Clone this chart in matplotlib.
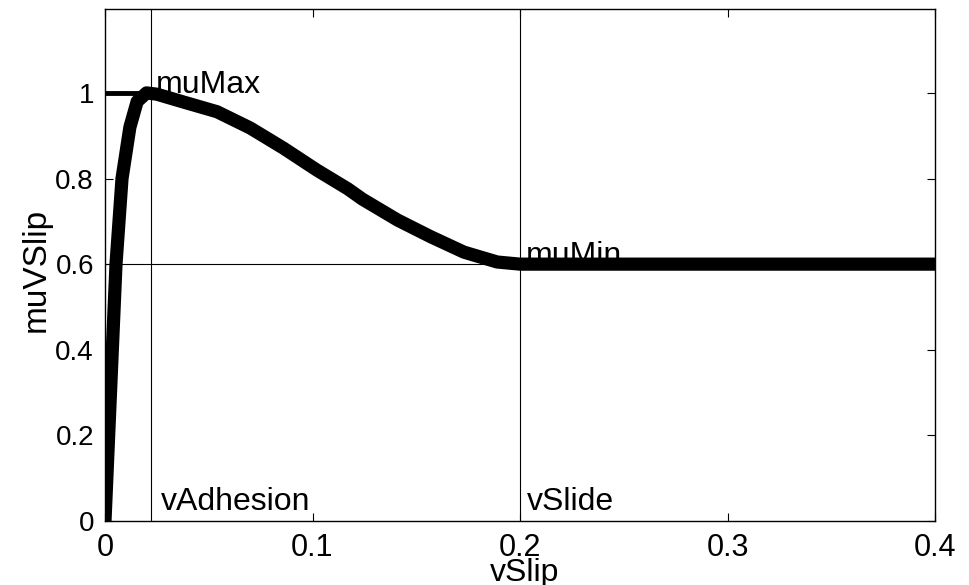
import matplotlib
matplotlib.use("Agg")
import matplotlib.pyplot as plt

plt.rcParams["font.family"] = ["Liberation Sans", "DejaVu Sans"]

# friction curve
v_slip = [0.0, 0.0053, 0.0082, 0.012, 0.0155, 0.020, 0.025, 0.0376, 0.054,
          0.070, 0.086, 0.102, 0.117, 0.124, 0.141, 0.157, 0.173, 0.189,
          0.200, 0.400]
mu_v_slip = [0.0, 0.60, 0.80, 0.92, 0.98, 1.00, 0.997, 0.979, 0.956,
             0.918, 0.871, 0.820, 0.776, 0.752, 0.703, 0.664, 0.628, 0.605,
             0.600, 0.600]

mu_max = 1.0
mu_min = 0.6
v_adhesion = 0.022
v_slide = 0.2

x_ticks = [0, 0.1, 0.2, 0.3, 0.4]
x_tick_labels = ["0", "0.1", "0.2", "0.3", "0.4"]
y_ticks = [0, 0.2, 0.4, 0.6, 0.8, 1.0]
y_tick_labels = ["0", "0.2", "0.4", "0.6", "0.8", "1"]

fig = plt.figure(figsize=(9.69, 5.85), dpi=100, facecolor="white")
ax = fig.add_axes([105 / 969, 1 - 521 / 585, 830 / 969, 512 / 585])

# reference lines
ax.axvline(v_adhesion, color="black", lw=0.8, zorder=1)
ax.axvline(v_slide, color="black", lw=0.8, zorder=1)
ax.axhline(mu_min, color="black", lw=0.8, zorder=1)
ax.plot([0, v_adhesion], [mu_max, mu_max], color="black", lw=3.5,
        solid_capstyle="butt", zorder=2)

ax.plot(v_slip, mu_v_slip, color="black", lw=9.5, solid_capstyle="butt",
        solid_joinstyle="round", zorder=3)

ax.text(0.0245, mu_max, "muMax", fontsize=23, ha="left", va="baseline")
ax.text(0.2030, mu_min, "muMin", fontsize=23, ha="left", va="baseline")
ax.text(0.0270, 0.026, "vAdhesion", fontsize=23, ha="left", va="baseline")
ax.text(0.2034, 0.026, "vSlide", fontsize=23, ha="left", va="baseline")

ax.set_xlim(0, 0.4)
ax.set_ylim(0, 1.196)
ax.set_xticks(x_ticks)
ax.set_xticklabels(x_tick_labels)
ax.set_yticks(y_ticks)
ax.set_yticklabels(y_tick_labels)
ax.tick_params(direction="in", length=6, width=0.8, top=True, right=True)
ax.tick_params(axis="x", labelsize=22, pad=9)
ax.tick_params(axis="y", labelsize=20, pad=8)
for sp in ax.spines.values():
    sp.set_linewidth(1.0)

ax.set_xlabel("vSlip", fontsize=23)
ax.xaxis.set_label_coords(0.505, -0.072)
ax.set_ylabel("muVSlip", fontsize=24)
ax.yaxis.set_label_coords(-0.064, 0.49)

fig.savefig("out.png", dpi=100, facecolor="white")
